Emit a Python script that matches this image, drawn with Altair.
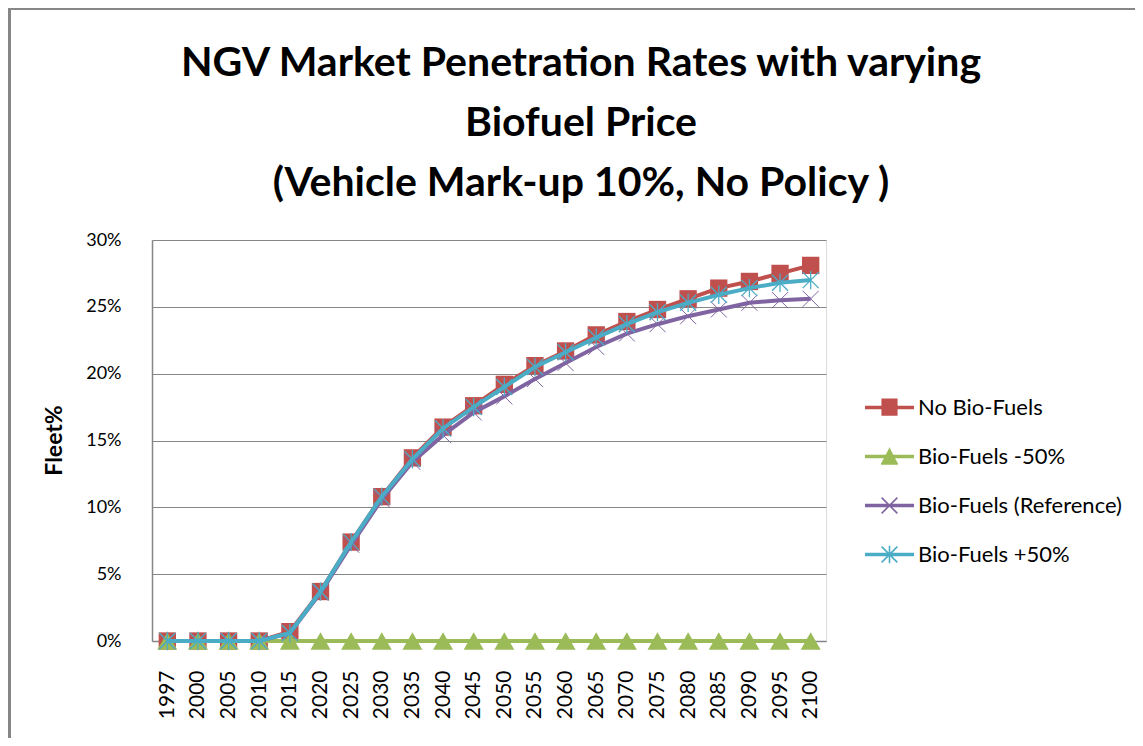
import altair as alt
import pandas as pd

years = ["1997", "2000", "2005", "2010", "2015", "2020", "2025", "2030", "2035", "2040",
         "2045", "2050", "2055", "2060", "2065", "2070", "2075", "2080", "2085", "2090",
         "2095", "2100"]

series_names = ["No Bio-Fuels", "Bio-Fuels -50%", "Bio-Fuels (Reference)", "Bio-Fuels +50%"]
series_colors = ["#C0504D", "#9BBB59", "#8064A2", "#4BACC6"]

# values in percent of fleet
no_bio = [0, 0, 0, 0, 0.7, 3.7, 7.4, 10.8, 13.7, 16.0, 17.6, 19.2, 20.6, 21.7, 22.9, 23.9,
          24.8, 25.6, 26.4, 26.9, 27.5, 28.1]
bio_minus50 = [0, 0, 0, 0, 0, 0, 0, 0, 0, 0, 0, 0, 0, 0, 0, 0, 0, 0, 0, 0, 0, 0]
bio_reference = [0, 0, 0, 0, 0.6, 3.6, 7.2, 10.6, 13.4, 15.4, 17.1, 18.3, 19.6, 20.8, 22.0, 23.0,
                 23.7, 24.3, 24.8, 25.3, 25.5, 25.6]
bio_plus50 = [0, 0, 0, 0, 0.6, 3.7, 7.4, 10.8, 13.6, 15.9, 17.5, 19.0, 20.5, 21.6, 22.7, 23.7,
              24.6, 25.3, 25.9, 26.4, 26.8, 27.0]

all_values = [no_bio, bio_minus50, bio_reference, bio_plus50]
rows = []
for name, vals in zip(series_names, all_values):
    for yr, v in zip(years, vals):
        rows.append({"year": yr, "series": name, "value": v / 100.0})
df = pd.DataFrame(rows)

FONT = "Lato"
GRID = "#868686"

marker_shapes = {
    "No Bio-Fuels": ("square", True, 300, 1),
    "Bio-Fuels -50%": ("triangle-up", True, 400, 1),
    "Bio-Fuels (Reference)": ("M-1,-1L1,1M-1,1L1,-1", False, 256, 1),
    "Bio-Fuels +50%": ("M-1,-1L1,1M-1,1L1,-1M0,-1.15L0,1.15", False, 256, 1.3),
}


# legend symbols (stroke-only paths in the unit box [-1, 1]): line segment + marker
def hlines(spans):
    return "".join(f"M{a:.3f},{y:.3f}L{b:.3f},{y:.3f}" for y, a, b in spans)


line_seg = hlines([(-0.04, -1, 1), (0.0, -1, 1), (0.04, -1, 1)])
sq = hlines([(-0.33 + 0.045 * k, -0.33, 0.33) for k in range(15)])
tri = hlines([(-0.33 + 0.045 * k, -0.36 * (0.045 * k + 0.03) / 0.69,
               0.36 * (0.045 * k + 0.03) / 0.69) for k in range(15)])
xs = "M-0.32,-0.32L0.32,0.32M-0.32,0.32L0.32,-0.32"
star = xs + "M0,-0.36L0,0.36"
legend_paths = [line_seg + sq, line_seg + tri, line_seg + xs, line_seg + star]

x_enc = alt.X(
    "year:O", sort=years, title=None,
    scale=alt.Scale(type="point", padding=0.5),
    axis=alt.Axis(labelAngle=-90, labelFont=FONT, labelFontSize=21, labelColor="#000000",
                  labelPadding=29, ticks=False, domainColor=GRID, domainWidth=1.5, grid=False),
)
y_enc = alt.Y(
    "value:Q", scale=alt.Scale(domain=[0, 0.30], nice=False, zero=True),
    axis=alt.Axis(title="Fleet%", format=".0%", values=[0, 0.05, 0.10, 0.15, 0.20, 0.25, 0.30],
                  labelFont=FONT, labelFontSize=18, labelColor="#000000", labelPadding=31,
                  ticks=False, domainColor=GRID, domainWidth=1.5, gridColor=GRID, gridWidth=1,
                  titleFont=FONT, titleFontSize=23, titleFontWeight="bold", titleColor="#000000",
                  titleX=-98, titleY=200, titleAlign="center", titleBaseline="middle",
                  titleAngle=270),
)

color_scale = alt.Scale(domain=series_names, range=series_colors)

legend = alt.Legend(
    title=None, orient="none", legendX=712, legendY=142, padding=0,
    symbolSize=2401, rowPadding=12, labelOffset=3,
    labelFont=FONT, labelFontSize=22, labelColor="#000000", labelLimit=400,
    symbolStrokeWidth=1.6, symbolOpacity=1,
)

# invisible layer (first, so its legend settings win) that only carries the legend
legend_layer = alt.Chart(df).mark_point(filled=False, strokeWidth=1.6).encode(
    x=x_enc, y=y_enc,
    color=alt.Color("series:N", scale=color_scale, legend=legend),
    shape=alt.Shape("series:N", scale=alt.Scale(domain=series_names, range=legend_paths),
                    legend=legend),
    opacity=alt.value(0),
)
layers = [legend_layer]

for i, name in enumerate(series_names):
    sub = alt.Chart(df).transform_filter(alt.datum.series == name)
    line = sub.mark_line(strokeWidth=4).encode(
        x=x_enc, y=y_enc,
        color=alt.Color("series:N", scale=color_scale, legend=None),
    )
    shape, filled, size, sw = marker_shapes[name]
    pts = sub.mark_point(shape=shape, filled=filled, size=size, opacity=1,
                         strokeWidth=sw).encode(
        x=x_enc, y=y_enc,
        color=alt.Color("series:N", scale=color_scale, legend=None),
    )
    layers += [line, pts]

# chart-area frame (top and left edges, as in the original)
frame_top = alt.Chart(df).mark_rule(color=GRID, strokeWidth=1.5).encode(
    x=alt.value(-146), x2=alt.value(1000), y=alt.value(-231.5))
frame_left = alt.Chart(df).mark_rule(color=GRID, strokeWidth=3).encode(
    x=alt.value(-142.5), y=alt.value(-231), y2=alt.value(500))
layers += [frame_top, frame_left]

chart = alt.layer(*layers).properties(
    width=674, height=401,
    autosize=alt.AutoSizeParams(type="none"),
    padding={"left": 144, "top": 232, "right": 309, "bottom": 97},
    title=alt.Title(
        text=["NGV Market Penetration Rates with varying", "Biofuel Price",
              "(Vehicle Mark-up 10%, No Policy )"],
        font=FONT, fontSize=41, fontWeight="bold", color="#000000",
        lineHeight=60, anchor="middle", offset=28, dx=92, dy=225,
    ),
).configure_view(stroke=None).configure(background="#FFFFFF")

chart.save("out.html", embed_options={"renderer": "svg", "actions": False})
